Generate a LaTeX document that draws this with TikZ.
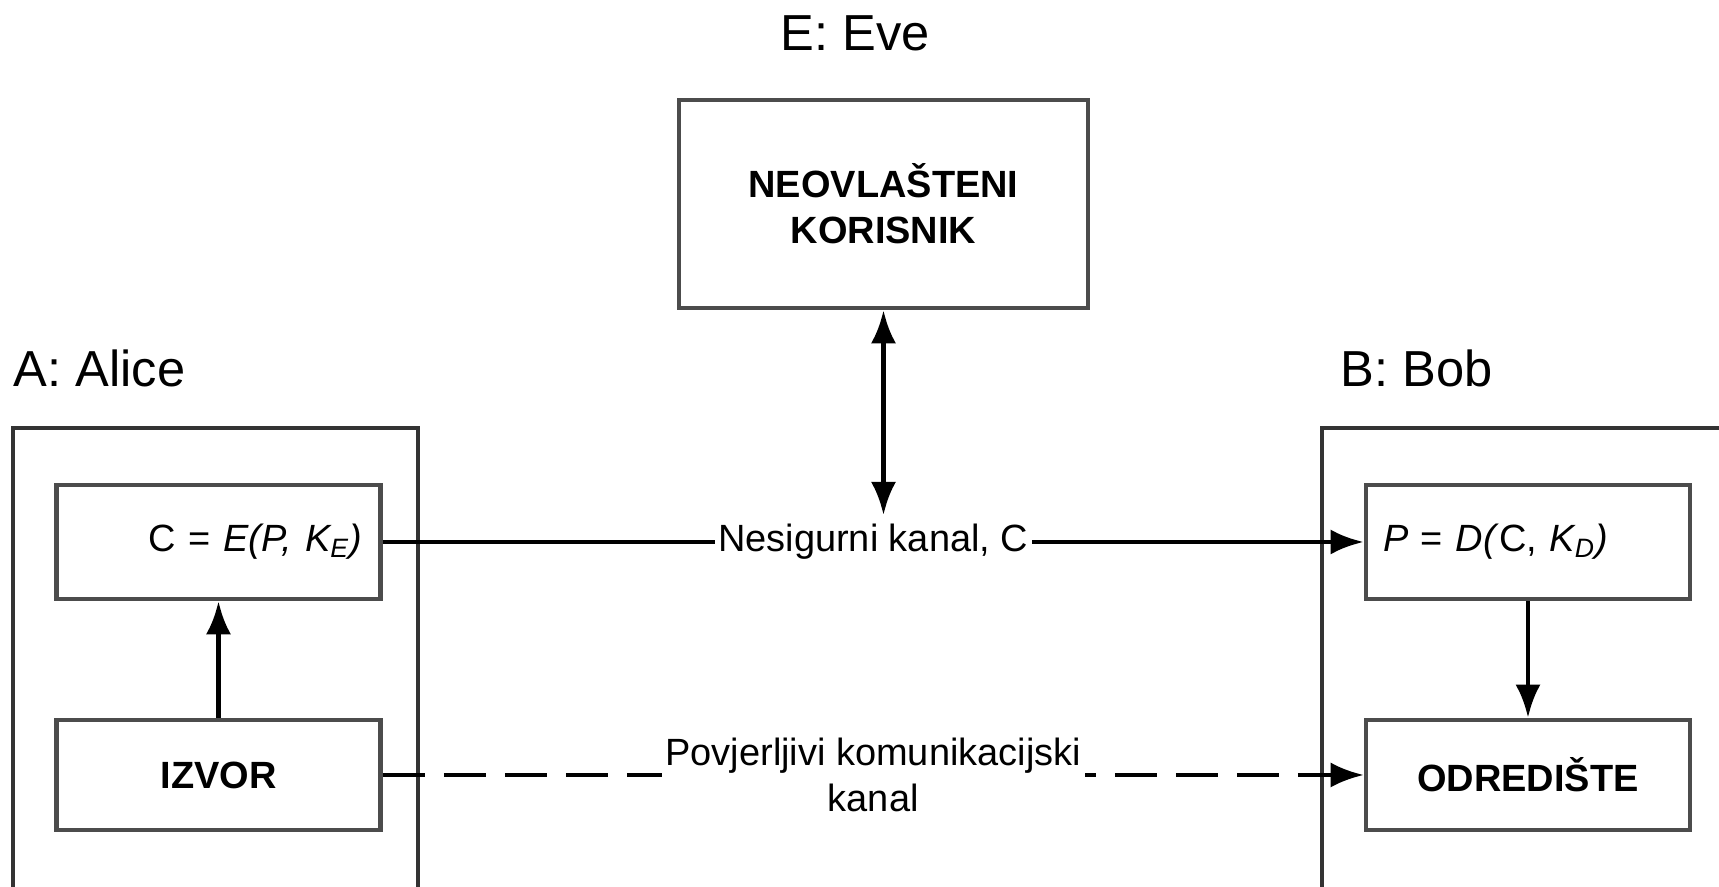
\documentclass[tikz,border=0pt]{standalone}
\usepackage{fontspec}
\setmainfont{Liberation Sans}
\usetikzlibrary{arrows.meta}
\begin{document}
\begin{tikzpicture}[
  >={Latex[length=3.3mm,width=2.5mm]},
  who/.style={inner sep=0pt, font=\fontsize{14.4}{17}\selectfont},
  outerbox/.style={draw=black!80, line width=1pt, minimum width=#1, minimum height=5cm},
  innerbox/.style={draw=black!70, line width=1.3pt, minimum width=3.24cm, minimum height=1.14cm, font=\fontsize{10.8}{13}\selectfont},
  link/.style={line width=1.4pt},
  chan/.style={fill=white, inner sep=1pt, font=\fontsize{10.8}{13}\selectfont}
]
\useasboundingbox[fill=white] (0,0) rectangle (17.19,8.87);
\clip (0,0) rectangle (17.19,8.87);
%%%%%%%%%%%%%
\node[who] (evename) at (8.55,8.54) {E: Eve};
\node[who, anchor=west] (alicename) at (0.13,5.19) {A: Alice};
\node[who, anchor=west] (bobname) at (13.40,5.19) {B: Bob};
%%%%%%%%%%%%%
\node[outerbox=4.05cm] (alice) at (2.155,2.09) {};
\node[outerbox=4.5cm] (bob) at (15.47,2.09) {};
\node[innerbox, minimum width=4.09cm, minimum height=2.08cm, align=center, font=\fontsize{10.8}{13}\selectfont\bfseries] (eve) at (8.835,6.83) {NEOVLAŠTENI\\KORISNIK};
\node[innerbox, text width=2.88cm, inner xsep=0.18cm, align=right] (enc) at (2.185,3.45) {C = \textit{E(P, K\textsubscript{E})}};
\node[innerbox, minimum height=1.1cm, font=\fontsize{10.8}{13}\selectfont\bfseries] (izvor) at (2.185,1.12) {IZVOR};
\node[innerbox, text width=2.9cm, inner xsep=0.17cm, align=left] (dec) at (15.28,3.45) {\textit{P} = \textit{D(}C, \textit{K\textsubscript{D})}};
\node[innerbox, minimum height=1.1cm, font=\fontsize{10.8}{13}\selectfont\bfseries] (dest) at (15.28,1.12) {ODREDIŠTE};
\coordinate (tap) at (8.835,3.72);
%%%%%%%%%%%%%
\draw[link, ->] (izvor) -- (enc);
\draw[link, ->] (dec) -- (dest);
\draw[link, <->] (eve.south) -- (tap);
\draw[link, ->] (enc.east) -- node[chan, midway] {Nesigurni kanal, C} (dec.west);
\draw[line width=1.2pt, dash pattern=on 0.42cm off 0.19cm, ->] (izvor.east) -- node[chan, midway, align=center] {Povjerljivi komunikacijski\\kanal} (dest.west);
\end{tikzpicture}
\end{document}
